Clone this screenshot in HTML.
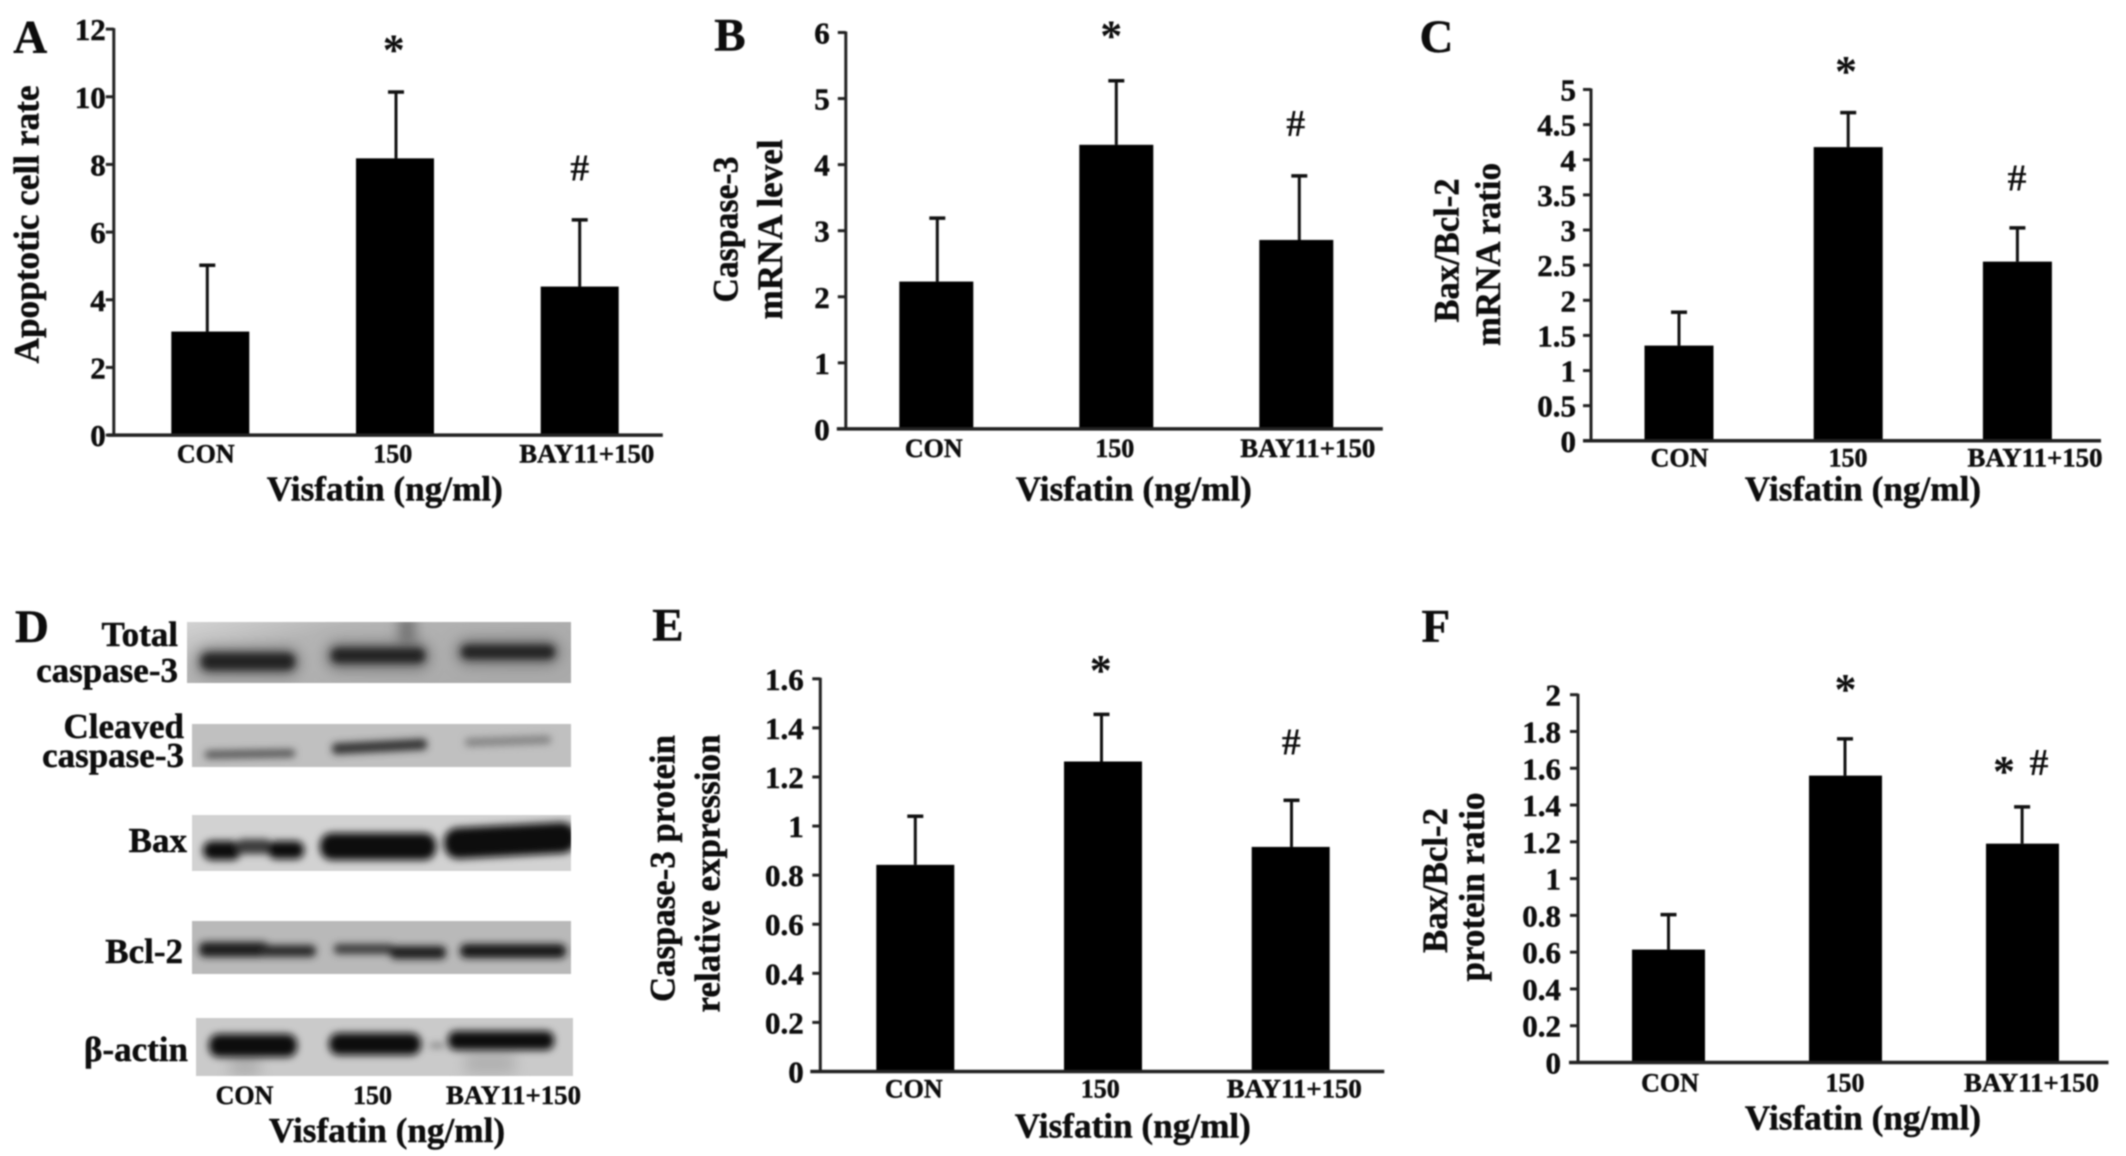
<!DOCTYPE html>
<html lang="en">
<head>
<meta charset="utf-8">
<title>Visfatin apoptosis figure</title>
<style>
html,body{margin:0;padding:0;background:#fff;width:2126px;height:1156px;overflow:hidden}
svg{display:block;position:absolute;left:0;top:0;filter:blur(0.8px)}
text{font-family:"Liberation Serif",serif;font-weight:bold;fill:#0d0d0d;stroke:#0d0d0d;stroke-width:0.45px}
</style>
</head>
<body>
<svg id="fig" width="2126" height="1156" viewBox="0 0 2126 1156" xmlns="http://www.w3.org/2000/svg">
  <defs>
    <filter id="b3" filterUnits="userSpaceOnUse" x="150" y="600" width="450" height="500"><feGaussianBlur stdDeviation="3.8"/></filter>
    <filter id="b7" filterUnits="userSpaceOnUse" x="150" y="600" width="450" height="500"><feGaussianBlur stdDeviation="7"/></filter>
    <clipPath id="c1"><rect x="187" y="622" width="384" height="61"/></clipPath>
    <clipPath id="c2"><rect x="192" y="724" width="379" height="43"/></clipPath>
    <clipPath id="c3"><rect x="192" y="815" width="379" height="56"/></clipPath>
    <clipPath id="c4"><rect x="192" y="921" width="379" height="53"/></clipPath>
    <clipPath id="c5"><rect x="196" y="1018" width="377" height="58"/></clipPath>
    <linearGradient id="g1" x1="0" y1="0" x2="1" y2="0.5"><stop offset="0" stop-color="#d2d2d2"/><stop offset="0.35" stop-color="#b4b4b4"/><stop offset="1" stop-color="#aaaaaa"/></linearGradient>
  </defs>
  <g id="panel-d">
    <g clip-path="url(#c1)">
      <rect x="187" y="622" width="384" height="61" fill="url(#g1)"/>
      <rect filter="url(#b7)" x="400" y="615" width="14" height="35" fill="#666"/>
      <g filter="url(#b7)" fill="#777"><rect x="196" y="648" width="104" height="28" rx="12"/><rect x="326" y="642" width="104" height="28" rx="12"/><rect x="456" y="639" width="104" height="26" rx="12"/></g>
      <g filter="url(#b3)" fill="#222"><rect x="201" y="653" width="94" height="17" rx="8"/><rect x="331" y="648" width="94" height="15" rx="7"/><rect x="461" y="645" width="94" height="14" rx="7"/></g>
    </g>
    <g clip-path="url(#c2)">
      <rect x="192" y="724" width="379" height="43" fill="#c0c0c0"/>
      <g filter="url(#b3)"><rect x="205" y="750" width="90" height="8" rx="3" fill="#555" transform="rotate(-1 250 754)"/><rect x="332" y="741" width="95" height="11" rx="4" fill="#333" transform="rotate(-3 380 746)"/><rect x="465" y="737" width="86" height="8" rx="3" fill="#808080" transform="rotate(-2 508 741)"/></g>
    </g>
    <g clip-path="url(#c3)">
      <rect x="192" y="815" width="379" height="56" fill="#d2d2d2"/>
      <g filter="url(#b3)" fill="#0e0e0e"><rect x="203" y="841" width="38" height="19" rx="9"/><rect x="236" y="839" width="36" height="15" rx="7" fill="#3a3a3a"/><rect x="268" y="841" width="36" height="18" rx="8"/><rect x="320" y="833" width="116" height="27" rx="12"/><rect x="444" y="825" width="132" height="31" rx="14" transform="rotate(-3 510 840)"/></g>
    </g>
    <g clip-path="url(#c4)">
      <rect x="192" y="921" width="379" height="53" fill="#b9b9b9"/>
      <g filter="url(#b3)"><rect x="199" y="942" width="70" height="15" rx="6" fill="#1c1c1c"/><rect x="260" y="945" width="56" height="12" rx="5" fill="#2a2a2a"/><rect x="334" y="944" width="60" height="10" rx="4" fill="#3a3a3a"/><rect x="390" y="946" width="56" height="13" rx="5" fill="#1e1e1e"/><rect x="460" y="944" width="106" height="14" rx="6" fill="#181818"/></g>
    </g>
    <g clip-path="url(#c5)">
      <rect x="196" y="1018" width="377" height="58" fill="#cacaca"/>
      <g filter="url(#b7)" fill="#b0b0b0"><rect x="230" y="1055" width="30" height="22"/><rect x="465" y="1052" width="50" height="22"/></g>
      <g filter="url(#b3)" fill="#111"><rect x="209" y="1034" width="88" height="23" rx="10"/><rect x="329" y="1033" width="92" height="22" rx="10"/><rect x="448" y="1031" width="106" height="19" rx="8"/></g>
      <rect filter="url(#b3)" x="430" y="1044" width="14" height="3" fill="#555"/>
    </g>
    <text x="178" y="646" text-anchor="end" font-size="35">Total</text>
    <text x="178" y="682" text-anchor="end" font-size="35">caspase-3</text>
    <text x="184" y="738" text-anchor="end" font-size="35">Cleaved</text>
    <text x="184" y="767" text-anchor="end" font-size="35">caspase-3</text>
    <text x="187" y="852" text-anchor="end" font-size="35">Bax</text>
    <text x="183" y="963" text-anchor="end" font-size="35">Bcl-2</text>
    <text x="188" y="1061" text-anchor="end" font-size="35">β-actin</text>
    <text x="244.5" y="1104" text-anchor="middle" font-size="26">CON</text>
    <text x="372.5" y="1104" text-anchor="middle" font-size="26">150</text>
    <text x="513.5" y="1104" text-anchor="middle" font-size="26" textLength="135" lengthAdjust="spacingAndGlyphs">BAY11+150</text>
    <text x="387" y="1142" text-anchor="middle" font-size="35.2">Visfatin (ng/ml)</text>
    <text x="15" y="642" font-size="47">D</text>
  </g>
</svg>
<script>
const categories = ['CON', '150', 'BAY11+150'];

const panelAValues = [3.06, 8.18, 4.39];
const panelAErrorTops = [5.02, 10.14, 6.36];
const panelATicks = ['0', '2', '4', '6', '8', '10', '12'];

const panelBValues = [2.23, 4.30, 2.86];
const panelBErrorTops = [3.19, 5.27, 3.83];
const panelBTicks = ['0', '1', '2', '3', '4', '5', '6'];

const panelCValues = [1.355, 4.18, 2.55];
const panelCErrorTops = [1.83, 4.67, 3.03];
const panelCTicks = ['0', '0.5', '1', '1.5', '2', '2.5', '3', '3.5', '4', '4.5', '5'];

const panelEValues = [0.842, 1.263, 0.915];
const panelEErrorTops = [1.04, 1.455, 1.105];
const panelETicks = ['0', '0.2', '0.4', '0.6', '0.8', '1', '1.2', '1.4', '1.6'];

const panelFValues = [0.614, 1.56, 1.19];
const panelFErrorTops = [0.804, 1.76, 1.39];
const panelFTicks = ['0', '0.2', '0.4', '0.6', '0.8', '1', '1.2', '1.4', '1.6', '1.8', '2'];

const svg = document.getElementById('fig');
const NS = 'http://www.w3.org/2000/svg';

function addEl(parent, tag, attrs, name) {
  const el = document.createElementNS(NS, tag);
  for (const k in attrs) el.setAttribute(k, attrs[k]);
  
  
  parent.appendChild(el);
  return el;
}
function addText(parent, str, attrs, name) {
  const el = addEl(parent, 'text', attrs, name);
  el.textContent = str;
  return el;
}

function drawPanel(p) {
  const g = addEl(svg, 'g', {transform: 'translate(' + p.shift[0] + ' ' + p.shift[1] + ')'}, 'panel-' + p.id);
  const ticks = p.ticks;
  const yMax = parseFloat(ticks[ticks.length - 1]);
  const yScale = v => p.y0 - (v / yMax) * (p.y0 - p.yTop);
  const xScale = i => p.c0 + i * p.step;

  addText(g, p.id.toUpperCase(), {x: p.letter[0] + 2.5, y: p.letter[1] + 1, 'font-size': 47}, 'panel-letter-' + p.id);

  p.values.forEach((v, i) => {
    const cx = xScale(i);
    const errX = cx + p.errOff[i];
    addEl(g, 'line', {x1: errX, x2: errX, y1: yScale(v), y2: yScale(p.errs[i]), stroke: '#111', 'stroke-width': 3}, 'error-stem-' + p.id + '-' + i);
    addEl(g, 'line', {x1: errX - 8, x2: errX + 8, y1: yScale(p.errs[i]), y2: yScale(p.errs[i]), stroke: '#111', 'stroke-width': 3.5}, 'error-cap-' + p.id + '-' + i);
    addEl(g, 'rect', {x: cx - p.barW / 2, y: yScale(v), width: p.barW, height: p.y0 - yScale(v), fill: '#000'}, 'bar-' + p.id + '-' + i);
    const lab = {x: p.labelX[i], y: p.labelY, 'text-anchor': 'middle', 'font-size': 26};
    if (i === 2) { lab.textLength = 135; lab.lengthAdjust = 'spacingAndGlyphs'; }
    addText(g, categories[i], lab, 'x-tick-label-' + p.id + '-' + i);
  });

  addEl(g, 'line', {x1: p.axisX, x2: p.axisX, y1: p.yTop - 1, y2: p.y0, stroke: '#222', 'stroke-width': 3}, 'y-axis-' + p.id);
  addEl(g, 'line', {x1: p.xLeft, x2: p.xRight, y1: p.y0, y2: p.y0, stroke: '#222', 'stroke-width': 3.5}, 'x-axis-' + p.id);

  ticks.forEach(t => {
    const y = yScale(parseFloat(t));
    addEl(g, 'line', {x1: p.axisX - 8, x2: p.axisX, y1: y, y2: y, stroke: '#222', 'stroke-width': 3}, 'y-tick-' + p.id);
    addText(g, t, {x: p.tickRight, y: y + 11, 'text-anchor': 'end', 'font-size': 31}, 'y-tick-label-' + p.id);
  });

  p.yTitles.forEach(([s, x, cy, w], i) => {
    addText(g, s, {x: x, y: cy, 'text-anchor': 'middle', 'font-size': 36, textLength: w, lengthAdjust: 'spacingAndGlyphs', transform: 'rotate(-90 ' + x + ' ' + cy + ')'}, 'y-axis-title-' + p.id + '-' + i);
  });
  addText(g, 'Visfatin (ng/ml)', {x: p.xTitle[0], y: p.xTitle[1], 'text-anchor': 'middle', 'font-size': 35.2}, 'x-axis-title-' + p.id);

  p.marks.forEach(([s, x, bottom]) => {
    const star = s === '*';
    addText(g, s, {x: x, y: star ? bottom + 11 : bottom, 'text-anchor': 'middle', 'font-size': star ? 44 : 38, style: 'stroke:none'}, (star ? 'significance-star-' : 'significance-hash-') + p.id);
  });
}

drawPanel({id: 'a', shift: [-2.2, -1.5], values: panelAValues, errs: panelAErrorTops, ticks: panelATicks,
  y0: 436.6, yTop: 30.6, axisX: 116, xLeft: 110, xRight: 665, c0: 212.5, step: 184.7, barW: 78,
  errOff: [-3, 1, 0], labelX: [208, 395, 589], labelY: 464, tickRight: 108, letter: [13, 53],
  yTitles: [['Apoptotic cell rate', 40.5, 226, 278]], xTitle: [387, 502],
  marks: [['*', 396, 55], ['#', 582, 182]]});

drawPanel({id: 'b', shift: [-2.2, -1.5], values: panelBValues, errs: panelBErrorTops, ticks: panelBTicks,
  y0: 430.4, yTop: 34, axisX: 848, xLeft: 839, xRight: 1385, c0: 938.5, step: 180, barW: 74,
  errOff: [1, 0, 3], labelX: [936, 1117, 1310], labelY: 458.5, tickRight: 832, letter: [714, 51],
  yTitles: [['Caspase-3', 739.5, 231, 146], ['mRNA level', 784, 231, 180]], xTitle: [1136, 502],
  marks: [['*', 1113.5, 41], ['#', 1298, 137.5]]});

drawPanel({id: 'c', shift: [-2, -1.5], values: panelCValues, errs: panelCErrorTops, ticks: panelCTicks,
  y0: 442.3, yTop: 91, axisX: 1593, xLeft: 1585, xRight: 2103, c0: 1681, step: 169.2, barW: 69,
  errOff: [0, 0, 0], labelX: [1681.5, 1850, 2037], labelY: 468, tickRight: 1578, letter: [1419, 52.5],
  yTitles: [['Bax/Bcl-2', 1460.5, 252, 144], ['mRNA ratio', 1502, 256, 183]], xTitle: [1865, 502],
  marks: [['*', 1848, 76.5], ['#', 2019, 192]]});

drawPanel({id: 'e', shift: [-2.2, -2.5], values: panelEValues, errs: panelEErrorTops, ticks: panelETicks,
  y0: 1074, yTop: 681.3, axisX: 822.5, xLeft: 812.5, xRight: 1386.5, c0: 917.5, step: 187.7, barW: 78,
  errOff: [0, -1.5, 0.8], labelX: [916, 1102.5, 1296.5], labelY: 1100, tickRight: 806, letter: [652, 642],
  yTitles: [['Caspase-3 protein', 676.5, 871, 267], ['relative expression', 721.5, 876, 278]], xTitle: [1135, 1140],
  marks: [['*', 1103, 676.5], ['#', 1293.5, 757]]});

drawPanel({id: 'f', shift: [-2, -1.5], values: panelFValues, errs: panelFErrorTops, ticks: panelFTicks,
  y0: 1064, yTop: 696.2, axisX: 1580, xLeft: 1571, xRight: 2110.5, c0: 1670.5, step: 177, barW: 73,
  errOff: [0, -0.5, -0.4], labelX: [1672, 1847, 2033.5], labelY: 1093, tickRight: 1563, letter: [1421, 642],
  yTitles: [['Bax/Bcl-2', 1449, 882, 145], ['protein ratio', 1486, 888.5, 189]], xTitle: [1865, 1131],
  marks: [['*', 1847.5, 694.5], ['*', 2006, 776.5], ['#', 2041, 776.5]]});
</script>
</body>
</html>
